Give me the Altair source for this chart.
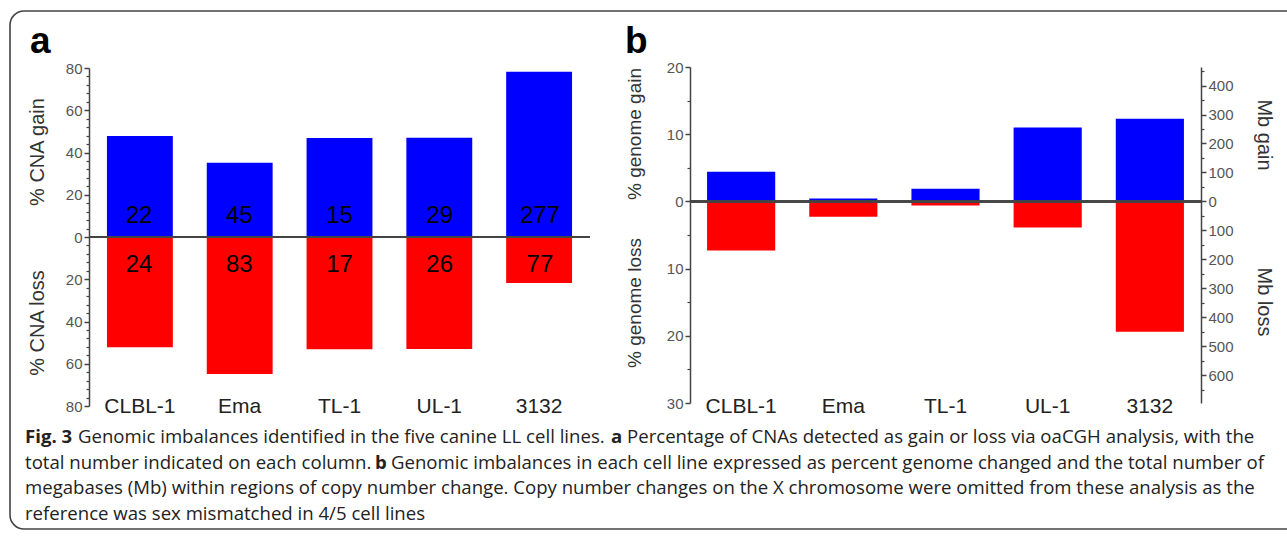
import altair as alt
import pandas as pd

# ---------------- data ----------------
cell_lines = ["CLBL-1", "Ema", "TL-1", "UL-1", "3132"]
cna_gain_pct = [47.8, 35.2, 46.9, 47.0, 78.2]
cna_loss_pct = [52.2, 64.8, 53.1, 53.0, 21.8]
cna_gain_count = [22, 45, 15, 29, 277]
cna_loss_count = [24, 83, 17, 26, 77]
genome_gain_pct = [4.4, 0.45, 1.9, 11.0, 12.3]
genome_loss_pct = [7.3, 2.3, 0.6, 3.9, 19.4]

cna_ticks = [-80, -60, -40, -20, 0, 20, 40, 60, 80]
cna_minor = [v for v in range(-76, 80, 4) if v % 20 != 0]
genome_ticks = [-30, -20, -10, 0, 10, 20]
genome_minor = [-25, -15, -5, 5, 15]
mb_ticks = [-600, -500, -400, -300, -200, -100, 0, 100, 200, 300, 400]
mb_minor = [-650, -550, -450, -350, -250, -150, -50, 50, 150, 250, 350, 450]
MB_PER_PCT = 23.2

caption_lines = [
    [("Fig. 3", True), ("Genomic imbalances identified in the five canine LL cell lines.", False),
     ("a", True), ("Percentage of CNAs detected as gain or loss via oaCGH analysis, with the", False)],
    [("total number indicated on each column.", False), ("b", True),
     ("Genomic imbalances in each cell line expressed as percent genome changed and the total number of", False)],
    [("megabases (Mb) within regions of copy number change. Copy number changes on the X chromosome were omitted from these analysis as the", False)],
    [("reference was sex mismatched in 4/5 cell lines", False)],
]

df = pd.DataFrame({
    "cell": cell_lines,
    "cna_gain": cna_gain_pct,
    "cna_loss": [-v for v in cna_loss_pct],
    "cna_gain_n": cna_gain_count,
    "cna_loss_n": cna_loss_count,
    "gen_gain": genome_gain_pct,
    "gen_loss": [-v for v in genome_loss_pct],
})

# ---------------- layout (pixels) ----------------
W, H = 1287, 538
A_X = [89, 590]
A_Y = [406, 68]
B_X = [690, 1201]
B_Y = [403, 67]
FONT = "Liberation Sans"
GRAY = "#555555"
BLUE = "#0000FF"
RED = "#FF0000"


def xa():
    return alt.Scale(domain=cell_lines, range=A_X, paddingInner=0.34, paddingOuter=0.18)


def xb():
    return alt.Scale(domain=cell_lines, range=B_X, paddingInner=0.333, paddingOuter=0.167)


def ya():
    return alt.Scale(domain=[-80, 80], range=A_Y)


def yb():
    return alt.Scale(domain=[-30, 20], range=B_Y)


def ymb():
    return alt.Scale(domain=[-30 * MB_PER_PCT, 20 * MB_PER_PCT], range=B_Y)


abs_label = "abs(datum.value)"


def major_axis(orient, offset, values):
    return alt.Axis(orient=orient, offset=offset, values=values, labelExpr=abs_label,
                    title=None, grid=False, domain=True, domainColor="#444444", domainWidth=1.5,
                    ticks=True, tickSize=5, tickColor="#444444", tickWidth=1.5,
                    labelFont=FONT, labelFontSize=15, labelColor=GRAY, labelPadding=2)


def minor_axis(orient, offset, values):
    return alt.Axis(orient=orient, offset=offset, values=values, labels=False,
                    title=None, grid=False, domain=False,
                    ticks=True, tickSize=3, tickColor="#444444", tickWidth=1.2)


def cat_axis(offset):
    return alt.Axis(orient="bottom", offset=offset, title=None, grid=False, domain=False,
                    ticks=False, tickSize=0, labelAngle=0, labelBaseline="middle", labelPadding=0,
                    labelFont=FONT, labelFontSize=21, labelColor="#222222")


base = alt.Chart(df)

# ---------------- panel a ----------------
a_gain = base.mark_bar(color=BLUE).encode(
    x=alt.X("cell:N", scale=xa(), axis=cat_axis(A_Y[0] - H), sort=cell_lines),
    y=alt.Y("cna_gain:Q", scale=ya(), axis=major_axis("left", -A_X[0], cna_ticks)),
)
a_loss = base.mark_bar(color=RED).encode(
    x=alt.X("cell:N", scale=xa(), axis=None, sort=cell_lines),
    y=alt.Y("cna_loss:Q", scale=ya(), axis=minor_axis("left", -A_X[0], cna_minor)),
)
a_zero = base.mark_rule(color="#444444", strokeWidth=2).encode(
    x=alt.value(A_X[0]), x2=alt.value(A_X[1]),
    y=alt.YDatum(0, type="quantitative", scale=ya(), axis=None),
)
a_gain_txt = base.mark_text(font=FONT, fontSize=24, color="black", baseline="middle").encode(
    x=alt.X("cell:N", scale=xa(), axis=None, sort=cell_lines),
    y=alt.YDatum(10, type="quantitative", scale=ya(), axis=None),
    text="cna_gain_n:Q",
)
a_loss_txt = base.mark_text(font=FONT, fontSize=24, color="black", baseline="middle").encode(
    x=alt.X("cell:N", scale=xa(), axis=None, sort=cell_lines),
    y=alt.YDatum(-13.4, type="quantitative", scale=ya(), axis=None),
    text="cna_loss_n:Q",
)

# ---------------- panel b ----------------
b_gain = base.mark_bar(color=BLUE).encode(
    x=alt.X("cell:N", scale=xb(), axis=cat_axis(A_Y[0] - H), sort=cell_lines),
    y=alt.Y("gen_gain:Q", scale=yb(), axis=major_axis("left", -B_X[0], genome_ticks)),
)
b_loss = base.mark_bar(color=RED).encode(
    x=alt.X("cell:N", scale=xb(), axis=None, sort=cell_lines),
    y=alt.Y("gen_loss:Q", scale=yb(), axis=minor_axis("left", -B_X[0], genome_minor)),
)
b_zero = base.mark_rule(color="#444444", strokeWidth=2).encode(
    x=alt.value(B_X[0]), x2=alt.value(B_X[1]),
    y=alt.YDatum(0, type="quantitative", scale=yb(), axis=None),
)
mb_axis = base.mark_point(opacity=0).encode(
    y=alt.YDatum(0, type="quantitative", scale=ymb(), axis=major_axis("right", B_X[1] - W, mb_ticks)),
)
mb_minor_axis = base.mark_point(opacity=0).encode(
    y=alt.YDatum(0, type="quantitative", scale=ymb(), axis=minor_axis("right", B_X[1] - W, mb_minor)),
)


# ---------------- free text ----------------
def label(text, x, y, size=20, angle=0, weight="normal", align="center", baseline="middle",
          color="#333333", font=FONT):
    kw = dict(text=text, font=font, fontSize=size, fontWeight=weight, align=align,
              baseline=baseline, color=color)
    if angle:
        kw["angle"] = angle
    return alt.Chart(pd.DataFrame({"k": [0]})).mark_text(**kw).encode(
        x=alt.value(x), y=alt.value(y))


texts = [
    label("a", 30, 53, size=37, weight="bold", align="left", baseline="alphabetic", color="black"),
    label("b", 625, 53, size=37, weight="bold", align="left", baseline="alphabetic", color="black"),
    label("% CNA gain", 38, 152, angle=270),
    label("% CNA loss", 38, 323, angle=270),
    label("% genome gain", 635, 134, size=19, angle=270),
    label("% genome loss", 635, 303, size=19, angle=270),
    label("Mb gain", 1264, 135, angle=90),
    label("Mb loss", 1264, 302, angle=90),
]

# caption segment positions (x of each segment start, baseline y of each line)
seg_x = [[25, 78, 611, 627], [25, 375, 391], [25], [25]]
line_y = [443, 468.5, 494, 519.5]
CAP_FONT = "Open Sans"
for li, segs in enumerate(caption_lines):
    for si, (txt, bold) in enumerate(segs):
        texts.append(label(txt, seg_x[li][si], line_y[li], size=18.6,
                           weight="bold" if bold else "normal", align="left",
                           baseline="alphabetic", color="#222222", font=CAP_FONT))

border = alt.Chart(pd.DataFrame({"k": [0]})).mark_rect(
    fillOpacity=0, stroke="#444444", strokeWidth=1.6, cornerRadius=14
).encode(x=alt.value(10), x2=alt.value(1310), y=alt.value(11), y2=alt.value(529))

chart = alt.layer(
    border,
    a_gain, a_loss, a_zero, a_gain_txt, a_loss_txt,
    b_gain, b_loss, b_zero, mb_axis, mb_minor_axis,
    *texts,
).resolve_scale(x="independent", y="independent").resolve_axis(
    x="independent", y="independent"
).properties(
    width=W, height=H, padding=0, autosize=alt.AutoSizeParams(type="none"), background="white"
).configure_view(stroke=None)

chart.save("out.html", embed_options={"renderer": "svg", "actions": False})
